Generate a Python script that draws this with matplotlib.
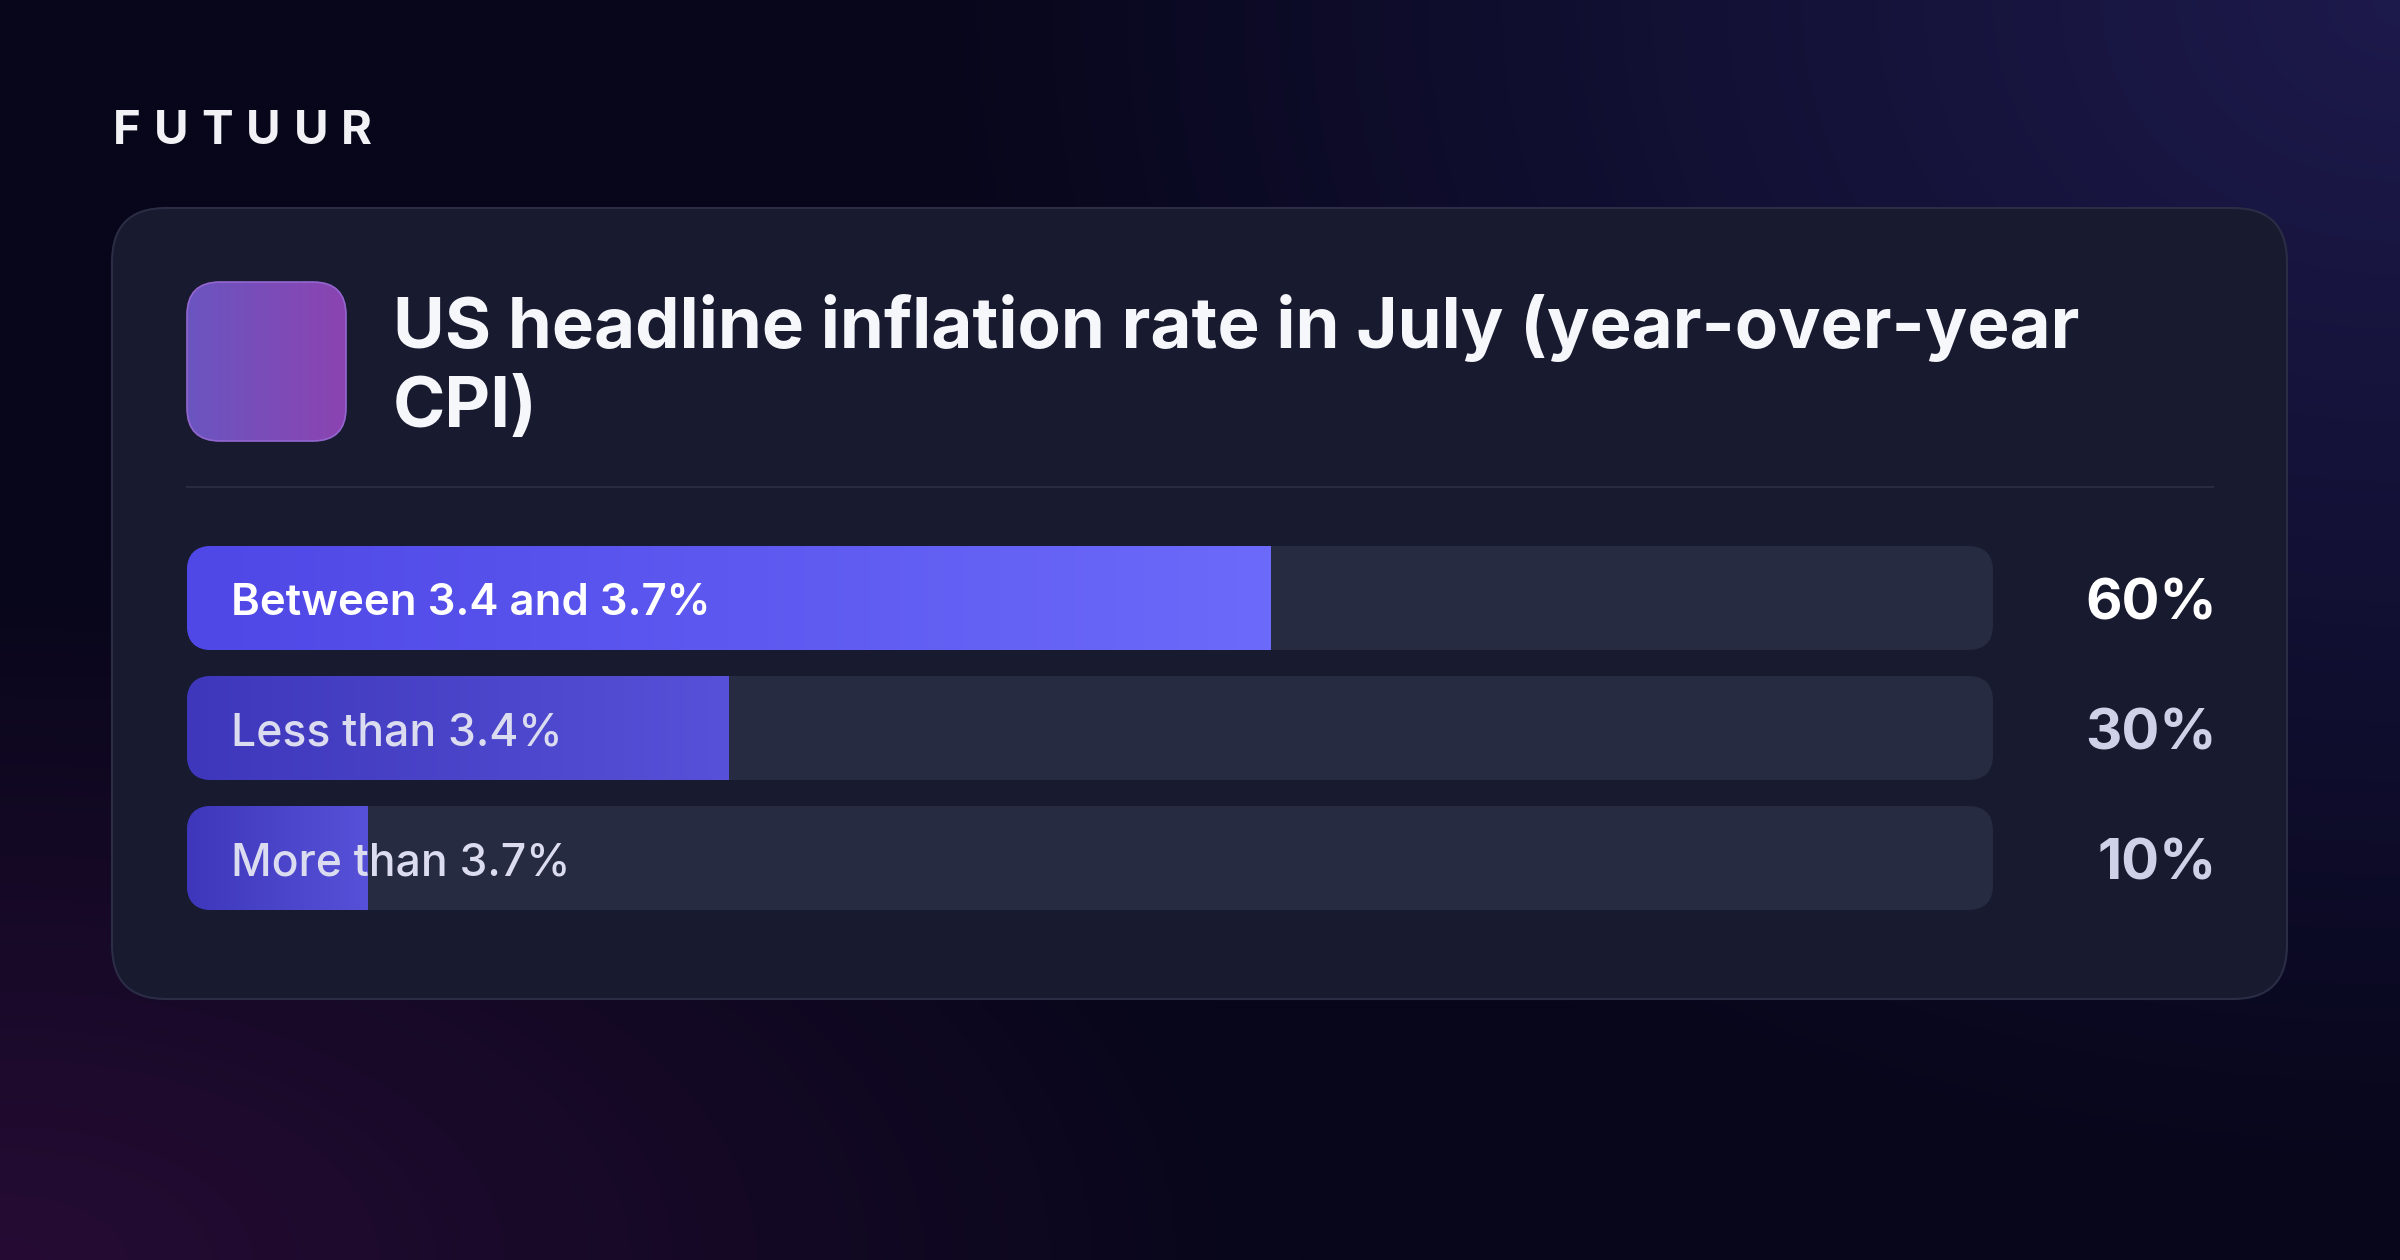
import numpy as np
import matplotlib.pyplot as plt
from matplotlib.patches import FancyBboxPatch
from matplotlib.colors import to_rgb, LinearSegmentedColormap

# chart content
brand = "FUTUUR"
title_lines = ["US headline inflation rate in July (year-over-year", "CPI)"]
options = ["Between 3.4 and 3.7%", "Less than 3.4%", "More than 3.7%"]
shares = [60, 30, 10]

plt.rcParams['font.family'] = ['Inter', 'DejaVu Sans']

W, H = 2400, 1260
fig = plt.figure(figsize=(24, 12.6), dpi=100)
bg = fig.add_axes([0, 0, 1, 1])

# background with two soft glows
yy, xx = np.mgrid[0:H:4, 0:W:4]
base = np.array(to_rgb('#07061a'))
glow_tr = np.array(to_rgb('#1d1a4c')) - base
glow_bl = np.array(to_rgb('#260c34')) - base
d1 = np.clip(1 - np.hypot((xx - W) / 1500, yy / 1200), 0, 1)
d2 = np.clip(1 - np.hypot(xx / 1300, (yy - H) / 700), 0, 1)
img = base + glow_tr * d1[..., None] + glow_bl * d2[..., None]
bg.imshow(np.clip(img, 0, 1), extent=(0, W, H, 0), aspect='auto',
          interpolation='bilinear', zorder=0)
bg.set_xlim(0, W)
bg.set_ylim(H, 0)
bg.axis('off')

# card
card = FancyBboxPatch((112, 208), 2175, 791, boxstyle="round,pad=0,rounding_size=54",
                      fc='#181a30', ec='#2a2d45', lw=1.5, zorder=1)
bg.add_patch(card)

# brand word with wide tracking
renderer = fig.canvas.get_renderer()
x = 113
for ch in brand:
    t = bg.text(x, 144, ch, color='#f2f2f6', fontsize=34, weight='bold',
                va='baseline', ha='left', zorder=3)
    bb = t.get_window_extent(renderer)
    x += bb.width + 13

# icon square with gradient
icon = FancyBboxPatch((187, 282), 159, 159, boxstyle="round,pad=0,rounding_size=33",
                      fc='none', ec='#9366d0', lw=1.2, zorder=4)
bg.add_patch(icon)
icon_cmap = LinearSegmentedColormap.from_list('icon', ['#6a55c0', '#8b44b1'])
im = bg.imshow(np.linspace(0, 1, 256).reshape(1, -1), cmap=icon_cmap,
               extent=(187, 346, 441, 282), aspect='auto', zorder=3)
im.set_clip_path(icon)

# title
for i, line in enumerate(title_lines):
    bg.text(393, 348 + i * 79, line, color='#f6f7fb', fontsize=51, weight='bold',
            va='baseline', ha='left', zorder=3)

# divider
bg.plot([187, 2213], [487, 487], color='#282b42', lw=1.5, zorder=2)

# bars
bx = fig.add_axes([187 / W, 1 - 910 / H, (1993 - 187) / W, 364 / H])
bx.patch.set_alpha(0)
rows = np.arange(len(options))
h = 0.8
px_x = 100 / (1993 - 187)
px_y = 2.8 / 364
radius = 25

fill_cols = [('#4f47e6', '#6b6afa'), ('#3e37bb', '#5651d8'), ('#3e37bb', '#5651d8')]
label_cols = ['#ffffff', '#dcdcf0', '#dcdcf0']
label_wts = ['semibold', 'medium', 'medium']
label_sizes = [31.5, 32, 32]
pct_cols = ['#ffffff', '#cfd1e8', '#cfd1e8']

tracks = bx.barh(rows, [100] * len(rows), height=h, color='#272b42', zorder=1)
fills = bx.barh(rows, shares, height=h, color=[c[0] for c in fill_cols], zorder=2)

for i, r in enumerate(rows):
    clip = FancyBboxPatch((0, r - h / 2), 100, h,
                          boxstyle=f"round,pad=0,rounding_size={radius * px_x}",
                          mutation_aspect=px_y / px_x, transform=bx.transData,
                          fc='none', ec='none')
    bx.add_patch(clip)
    tracks[i].set_clip_path(clip)
    fills[i].set_clip_path(clip)
    b = fills[i]
    cmap = LinearSegmentedColormap.from_list(f'f{i}', fill_cols[i])
    g = bx.imshow(np.linspace(0, 1, 256).reshape(1, -1), cmap=cmap,
                  extent=(b.get_x(), b.get_x() + b.get_width(), r + h / 2, r - h / 2),
                  aspect='auto', zorder=3)
    g.set_clip_path(clip)

    bx.annotate(options[i], xy=(0, r), xytext=(44, -17), textcoords='offset pixels',
                color=label_cols[i], fontsize=label_sizes[i], weight=label_wts[i],
                va='baseline', ha='left', zorder=5)
    bx.annotate(f"{shares[i]}%", xy=(100, r), xytext=(2217 - 1993, -22),
                textcoords='offset pixels', color=pct_cols[i], fontsize=40.5,
                weight='bold', va='baseline', ha='right', zorder=5,
                annotation_clip=False)

bx.set_xlim(0, 100)
bx.set_ylim(2.4, -0.4)
bx.axis('off')

fig.savefig('out.png', dpi=100, facecolor='#07061a')
